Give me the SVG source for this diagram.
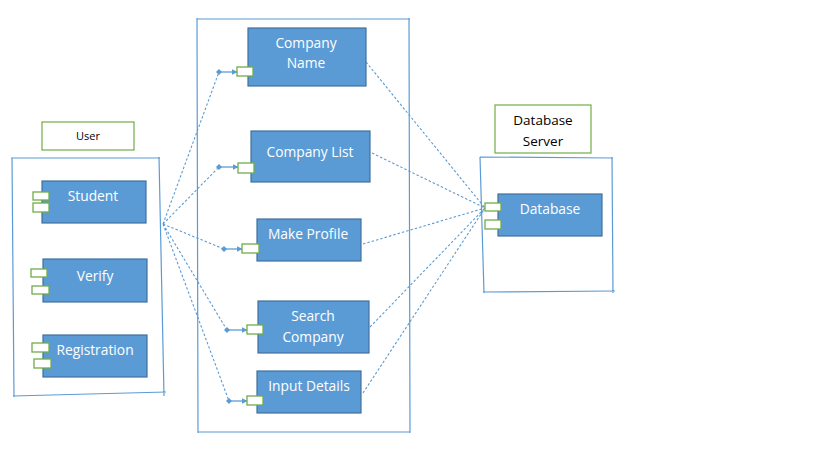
<svg xmlns="http://www.w3.org/2000/svg" width="819" height="476" viewBox="0 0 819 476">
<defs>
<marker id="tri" viewBox="0 0 10 10" refX="9" refY="5" markerWidth="6" markerHeight="6" markerUnits="userSpaceOnUse" orient="auto"><path d="M0,0 L10,5 L0,10 z" fill="#5B9BD5"/></marker>
<marker id="dia" viewBox="0 0 10 10" refX="5" refY="5" markerWidth="6" markerHeight="6" markerUnits="userSpaceOnUse" orient="auto"><path d="M0,5 L5,0 L10,5 L5,10 z" fill="#5B9BD5"/></marker>
</defs>
<style>
.cont{fill:none;stroke:#5B9BD5;stroke-width:1.2}
.lbl{fill:#fff;stroke:#70AD47;stroke-width:1.2}
.box{fill:#5B9BD5;stroke:#41719C;stroke-width:1.2}
.port{fill:#fff;stroke:#70AD47;stroke-width:1.3}
.t{font-family:"Open Sans","Liberation Sans",sans-serif;font-size:13.8px;fill:#fff;text-anchor:middle}
.tb{font-family:"Open Sans","Liberation Sans",sans-serif;fill:#000;text-anchor:middle}
.dash{fill:none;stroke:#5B9BD5;stroke-width:1.1;stroke-dasharray:2.5,2}
.arr{stroke:#5B9BD5;stroke-width:1.3;marker-start:url(#dia);marker-end:url(#tri)}
</style>
<rect width="819" height="476" fill="#fff"/>

<g id="containers">
<path class="cont" d="M11,158 L160,158 M159,157 L164,396 M12,158 L14,397 M13,396 L166,392"/>
<path class="cont" d="M197,19 L410,19 M197,18 L198,433 M409,18 L410,433 M198,432 L410,432"/>
<path class="cont" d="M480,157 L613,158 M480,157 Q482,225 484,293 M612,157 L613,293 M483,292 L615,291"/>
</g>

<g id="user-label"><rect class="lbl" x="42" y="122" width="92" height="28"/><text class="tb" x="88" y="140" font-size="11">User</text></g>
<g id="dbserver-label"><rect class="lbl" x="495" y="105" width="96" height="48"/><text class="tb" x="543" y="125" font-size="13.5">Database</text><text class="tb" x="543" y="146" font-size="13.5">Server</text></g>

<g id="connectors">
<path class="dash" d="M163,224 L219,72 M163,224 L219,167 M163,224 L224,249 M163,224 L227,330 M163,224 L229,401"/>
<path class="dash" d="M366,62 L485,208 M372,153 L485,208 M363,244 L485,208 M370,327 L485,208 M363,393 L485,208"/>
<line class="arr" x1="219" y1="72" x2="237" y2="72"/>
<line class="arr" x1="219" y1="167" x2="238" y2="167"/>
<line class="arr" x1="224" y1="249" x2="242" y2="249"/>
<line class="arr" x1="227" y1="330" x2="247" y2="330"/>
<line class="arr" x1="229" y1="401" x2="247" y2="401"/>
</g>

<g id="student"><rect class="box" x="42" y="181" width="104" height="42"/><rect class="port" x="33" y="192" width="16" height="8"/><rect class="port" x="33" y="203" width="16" height="9"/><text class="t" x="93" y="201">Student</text></g>
<g id="verify"><rect class="box" x="43" y="259" width="104" height="43"/><rect class="port" x="31" y="269" width="16" height="8"/><rect class="port" x="32" y="286" width="17" height="8"/><text class="t" x="95" y="281">Verify</text></g>
<g id="registration"><rect class="box" x="43" y="335" width="104" height="42"/><rect class="port" x="32" y="343" width="17" height="9"/><rect class="port" x="34" y="359" width="17" height="9"/><text class="t" x="95" y="355">Registration</text></g>

<g id="company-name"><rect class="box" x="248" y="28" width="118" height="58"/><rect class="port" x="237" y="67" width="16" height="9"/><text class="t" x="306" y="48">Company</text><text class="t" x="306" y="68">Name</text></g>
<g id="company-list"><rect class="box" x="251" y="131" width="119" height="51"/><rect class="port" x="238" y="163" width="16" height="10"/><text class="t" x="310" y="157">Company List</text></g>
<g id="make-profile"><rect class="box" x="257" y="219" width="104" height="42"/><rect class="port" x="242" y="244" width="17" height="9"/><text class="t" x="308" y="239">Make Profile</text></g>
<g id="search-company"><rect class="box" x="258" y="301" width="111" height="52"/><rect class="port" x="247" y="325" width="16" height="9"/><text class="t" x="313" y="321">Search</text><text class="t" x="313" y="342">Company</text></g>
<g id="input-details"><rect class="box" x="257" y="371" width="104" height="42"/><rect class="port" x="247" y="396" width="16" height="9"/><text class="t" x="309" y="391">Input Details</text></g>

<g id="database"><rect class="box" x="498" y="194" width="104" height="42"/><rect class="port" x="485" y="203" width="16" height="8"/><rect class="port" x="485" y="220" width="16" height="9"/><text class="t" x="550" y="214">Database</text></g>
</svg>
